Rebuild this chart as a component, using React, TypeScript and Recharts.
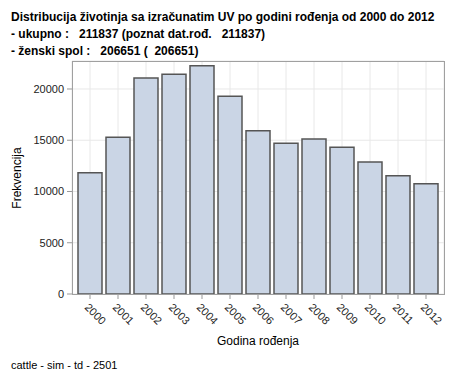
import { Bar, BarChart, CartesianGrid, XAxis, YAxis } from "recharts";

const YEARS = ["2000", "2001", "2002", "2003", "2004", "2005", "2006", "2007", "2008", "2009", "2010", "2011", "2012"];
const COUNTS = [11830, 15290, 21070, 21430, 22270, 19290, 15930, 14700, 15120, 14310, 12880, 11540, 10760];
const Y_TICKS = [0, 5000, 10000, 15000, 20000];

const TITLE_LINES = [
  "Distribucija životinja sa izračunatim UV po godini rođenja od 2000 do 2012",
  "- ukupno :   211837 (poznat dat.rođ.   211837)",
  "- ženski spol :   206651 (  206651)",
];

const FONT = "'Liberation Sans', Arial, sans-serif";

const data = YEARS.map((year, i) => ({ year, count: COUNTS[i] }));

function YearTick({ x, y, payload }: any) {
  return (
    <text
      x={x - 6}
      y={y + 7}
      transform={`rotate(45 ${x - 6} ${y + 7})`}
      textAnchor="start"
      fontSize={11}
      fill="#222"
      fontFamily={FONT}
    >
      {payload.value}
    </text>
  );
}

export default function App() {
  return (
    <div
      style={{
        position: "relative",
        width: 452,
        height: 376,
        margin: -8,
        border: "1px solid #c8c8c8",
        background: "#fff",
        fontFamily: FONT,
        color: "#000",
      }}
    >
      <div style={{ position: "absolute", left: 10, top: 8, fontSize: 12, fontWeight: "bold", lineHeight: "17px", whiteSpace: "pre" }}>
        {TITLE_LINES.map((line) => (
          <div key={line}>{line}</div>
        ))}
      </div>

      <div style={{ position: "absolute", left: -1, top: -1 }}>
        <BarChart
          width={454}
          height={378}
          data={data}
          margin={{ top: 61, right: 10, bottom: 0, left: 0 }}
        >
          <CartesianGrid stroke="#e8e8e8" strokeWidth={1} />
          <XAxis
            dataKey="year"
            height={84}
            padding={{ left: 4, right: 4 }}
            tickLine={{ stroke: "#999" }}
            tickSize={5}
            axisLine={false}
            interval={0}
            tick={<YearTick />}
          />
          <YAxis
            width={72}
            domain={[0, 22730]}
            ticks={Y_TICKS}
            tickLine={{ stroke: "#999" }}
            tickSize={5}
            tickMargin={3}
            axisLine={false}
            tick={{ fill: "#222", fontSize: 11, fontFamily: FONT }}
          />
          <Bar
            dataKey="count"
            fill="#cad5e5"
            stroke="#555"
            strokeWidth={1.5}
            barSize={24}
            isAnimationActive={false}
          />
        </BarChart>
      </div>

      <div
        style={{
          position: "absolute",
          left: 71,
          top: 60,
          width: 371,
          height: 232,
          border: "1px solid #a0a0a0",
          pointerEvents: "none",
        }}
      />

      <div
        style={{
          position: "absolute",
          left: 16,
          top: 177,
          fontSize: 12,
          transform: "translate(-50%, -50%) rotate(-90deg)",
          whiteSpace: "nowrap",
        }}
      >
        Frekvencija
      </div>

      <div
        style={{
          position: "absolute",
          left: 257,
          top: 333,
          fontSize: 12,
          transform: "translateX(-50%)",
          whiteSpace: "nowrap",
        }}
      >
        Godina rođenja
      </div>

      <div style={{ position: "absolute", left: 10, top: 358, fontSize: 11, whiteSpace: "nowrap" }}>
        cattle - sim - td - 2501
      </div>
    </div>
  );
}
